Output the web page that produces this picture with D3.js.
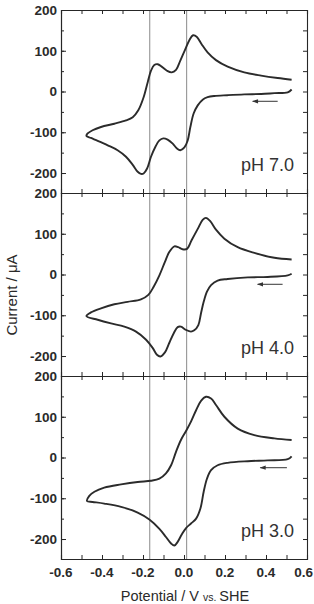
<!DOCTYPE html>
<html>
<head>
<meta charset="utf-8">
<script src="https://cdn.jsdelivr.net/npm/d3@7"></script>
<style>
html,body{margin:0;padding:0;background:#fff;}
svg{display:block;font-family:"Liberation Sans",Arial,Helvetica,sans-serif;}
</style>
</head>
<body>
<svg id="chart" width="314" height="604"></svg>
<script>
// ---- data ----
const panelLabels = ["pH 7.0", "pH 4.0", "pH 3.0"];
const xTickLabels = ["-0.6", "-0.4", "-0.2", "0.0", "0.2", "0.4", "0.6"];
const yTickValues = [200, 100, 0, -100, -200];
const guideLines = [-0.167, 0.013];

// pH 7.0 : cathodic scan (right -> left), then anodic scan (left -> right)
const pH7Potential = [0.525,0.506,0.441,0.376,0.294,0.213,0.148,0.115,0.091,0.067,0.047,0.031,0.018,0.002,-0.018,-0.034,-0.055,-0.080,-0.101,-0.120,-0.140,-0.161,-0.180,-0.197,-0.210,-0.226,-0.250,-0.283,-0.324,-0.372,-0.421,-0.454,-0.476,
  -0.470,-0.446,-0.405,-0.340,-0.283,-0.250,-0.223,-0.197,-0.177,-0.161,-0.145,-0.128,-0.109,-0.083,-0.060,-0.039,-0.018,0.005,0.026,0.044,0.063,0.086,0.115,0.156,0.213,0.294,0.376,0.457,0.525];
const pH7Current = [5,-2,-4,-6,-7,-9,-11,-14,-20,-34,-54,-87,-120,-137,-144,-140,-128,-118,-115,-120,-136,-160,-189,-201,-202,-197,-180,-160,-144,-132,-121,-114,-109,
  -103,-95,-87,-79,-71,-63,-46,-14,23,51,65,67,61,51,47,53,76,102,126,138,134,116,96,77,61,47,39,33,29];

// pH 4.0
const pH4Potential = [0.525,0.506,0.408,0.311,0.213,0.164,0.132,0.112,0.096,0.083,0.070,0.050,0.034,0.010,-0.015,-0.031,-0.050,-0.072,-0.093,-0.115,-0.132,-0.153,-0.185,-0.234,-0.291,-0.356,-0.421,-0.476,
  -0.454,-0.405,-0.340,-0.275,-0.210,-0.174,-0.148,-0.120,-0.093,-0.072,-0.047,-0.028,-0.007,0.015,0.037,0.067,0.091,0.107,0.128,0.156,0.197,0.262,0.343,0.441,0.525];
const pH4Current = [2,-2,-6,-7,-11,-15,-26,-42,-67,-95,-124,-137,-140,-136,-128,-129,-144,-168,-191,-201,-197,-180,-160,-140,-128,-120,-111,-102,
  -93,-83,-73,-67,-61,-50,-30,-2,31,55,69,67,62,63,84,112,134,139,131,110,88,67,53,41,37];

// pH 3.0
const pH3Potential = [0.525,0.506,0.408,0.311,0.213,0.164,0.132,0.112,0.096,0.080,0.059,0.034,0.010,-0.011,-0.031,-0.047,-0.063,-0.088,-0.120,-0.169,-0.226,-0.307,-0.389,-0.446,-0.473,
  -0.462,-0.437,-0.389,-0.307,-0.226,-0.161,-0.120,-0.088,-0.063,-0.039,-0.015,0.010,0.034,0.059,0.083,0.107,0.132,0.156,0.197,0.262,0.343,0.441,0.525];
const pH3Current = [3,-4,-7,-9,-13,-19,-31,-52,-84,-125,-150,-162,-173,-189,-207,-216,-211,-195,-175,-152,-135,-121,-113,-109,-107,
  -94,-84,-74,-66,-60,-57,-52,-39,-19,14,43,65,88,116,139,149,145,129,100,71,55,47,43];

// scan-direction arrows: [start potential, end potential, current]
const arrowStart = [0.457, 0.481, 0.502];
const arrowEnd = [0.335, 0.359, 0.372];
const arrowCurrent = [-24, -24, -25];

const panelPotentials = [pH7Potential, pH4Potential, pH3Potential];
const panelCurrents = [pH7Current, pH4Current, pH3Current];

// ---- layout ----
const svg = d3.select("#chart");
const left = 61, right = 307, top0 = 10, panelH = 183;
const ink = "#262626";
const W = 314;

const x = d3.scaleLinear().domain([-0.6, 0.6]).range([left, right]);

svg.append("defs").append("marker")
  .attr("id", "ah").attr("viewBox", "0 0 10 10").attr("refX", 9).attr("refY", 5)
  .attr("markerWidth", 8).attr("markerHeight", 6).attr("markerUnits", "userSpaceOnUse")
  .attr("orient", "auto")
  .append("path").attr("d", "M0,1.5 L10,5 L0,8.5 Z").attr("fill", "#333");

panelLabels.forEach((lab, i) => {
  const t = top0 + i * panelH;
  const y = d3.scaleLinear().domain([-249, 200]).range([t + panelH, t]);
  const g = svg.append("g");

  // guide lines
  g.selectAll(".guide").data(guideLines).enter().append("line")
    .attr("x1", d => x(d)).attr("x2", d => x(d))
    .attr("y1", t).attr("y2", t + panelH)
    .attr("stroke", "#8a8a8a").attr("stroke-width", 1);

  // axes with inward ticks
  const xTicks = d3.range(-6, 7).map(v => v / 10);
  const bottomAxis = d3.axisBottom(x).tickValues(xTicks).tickSize(-4).tickFormat("");
  const topAxis = d3.axisTop(x).tickValues(xTicks).tickSize(-4).tickFormat("");
  const yMinor = d3.range(-200, 201, 50);
  const leftAxisMinor = d3.axisLeft(y).tickValues(yMinor).tickSize(-3).tickFormat("");
  const leftAxis = d3.axisLeft(y).tickValues(yTickValues).tickSize(-5).tickFormat("");
  const rightAxis = d3.axisRight(y).tickValues(yMinor).tickSize(-4).tickFormat("");

  const axes = [
    [bottomAxis, `translate(0,${t + panelH})`],
    [topAxis, `translate(0,${t})`],
    [leftAxisMinor, `translate(${left},0)`],
    [leftAxis, `translate(${left},0)`],
    [rightAxis, `translate(${right},0)`]
  ];
  axes.forEach(([ax, tr]) => {
    const a = g.append("g").attr("transform", tr).call(ax);
    a.select(".domain").attr("stroke", ink).attr("stroke-width", 1.1);
    a.selectAll(".tick line").attr("stroke", ink).attr("stroke-width", 1);
  });

  // y tick labels
  g.selectAll(".ylab").data(yTickValues).enter().append("text")
    .attr("x", left - 4).attr("y", d => y(d)).attr("dy", "0.36em")
    .attr("text-anchor", "end").attr("font-size", 13.5).attr("font-weight", "bold")
    .attr("fill", "#2a2a2a").text(d => d);

  // curve
  const pts = panelPotentials[i].map((p, k) => [p, panelCurrents[i][k]]);
  const line = d3.line().x(d => x(d[0])).y(d => y(d[1])).curve(d3.curveCatmullRom.alpha(0.5));
  g.append("path").attr("d", line(pts)).attr("fill", "none")
    .attr("stroke", "#2b2b2b").attr("stroke-width", 1.9).attr("stroke-linejoin", "round");

  // arrow
  g.append("line")
    .attr("x1", x(arrowStart[i])).attr("x2", x(arrowEnd[i]))
    .attr("y1", y(arrowCurrent[i])).attr("y2", y(arrowCurrent[i]))
    .attr("stroke", "#333").attr("stroke-width", 1).attr("marker-end", "url(#ah)");

  // panel label
  g.append("text").attr("x", 294).attr("y", t + 161)
    .attr("text-anchor", "end").attr("font-size", 18).attr("fill", "#333").text(lab);
});

// x tick labels (last one kept inside the page edge)
const xl = svg.append("g");
xTickLabels.forEach((s, k) => {
  const last = k === xTickLabels.length - 1;
  xl.append("text").attr("x", last ? W - 1 : x(+s)).attr("y", 577)
    .attr("text-anchor", last ? "end" : "middle").attr("font-size", 13.5).attr("font-weight", "bold")
    .attr("fill", "#2a2a2a").text(s);
});

// axis titles
const xt = svg.append("text").attr("x", 185).attr("y", 601).attr("text-anchor", "middle")
  .attr("fill", "#2a2a2a").attr("font-size", 14.5);
xt.append("tspan").text("Potential / V ");
xt.append("tspan").attr("font-size", 10.5).text("vs. ");
xt.append("tspan").text("SHE");

svg.append("text").attr("transform", "translate(17,295) rotate(-90)")
  .attr("text-anchor", "middle").attr("fill", "#2a2a2a").attr("font-size", 15)
  .text("Current / μA");
</script>
</body>
</html>
